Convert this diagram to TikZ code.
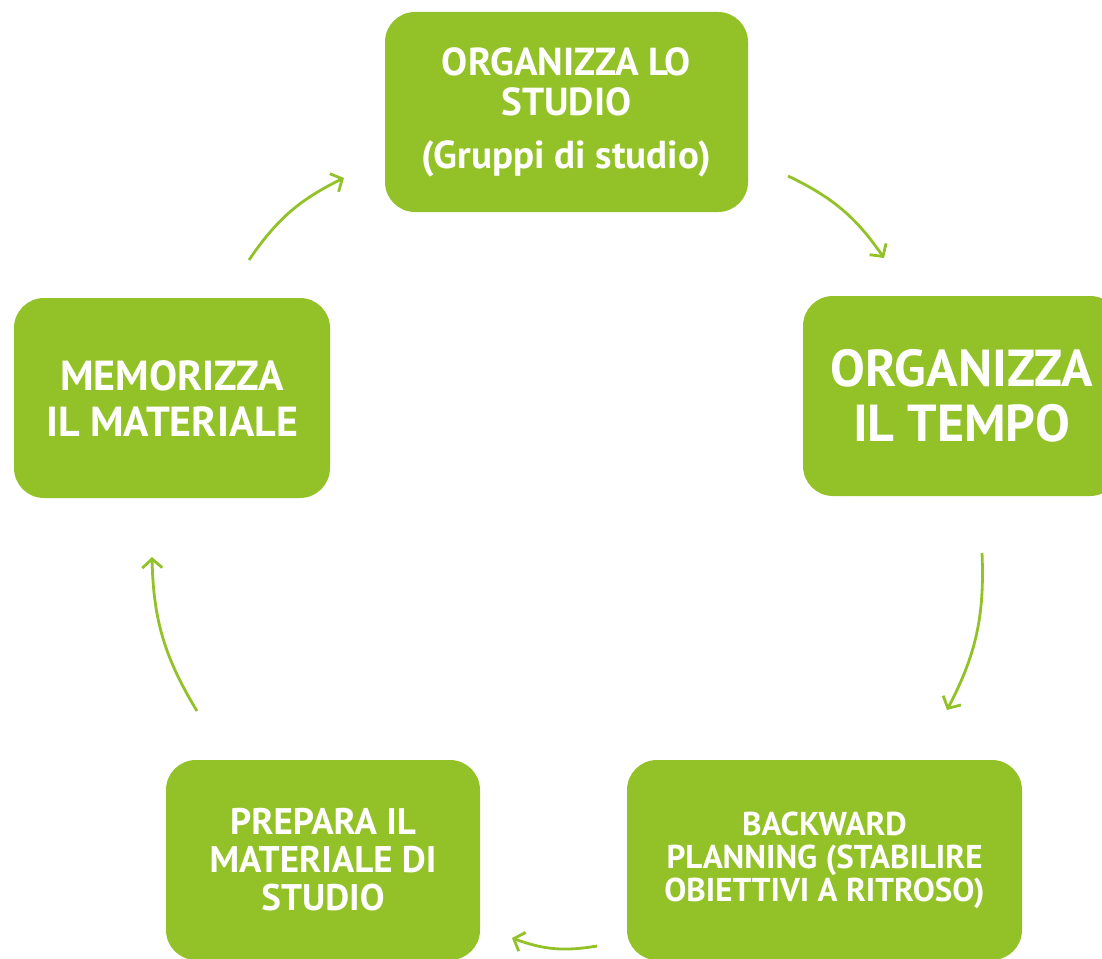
\documentclass[tikz,border=0pt]{standalone}
\usepackage{fontspec}
\setmainfont{PT Sans}
\usetikzlibrary{arrows.meta}
\definecolor{leaf}{HTML}{93C228}
\tikzset{
  box/.style={fill=leaf, rounded corners=30pt, inner sep=0pt, align=center,
    text=white},
  cyc/.style={draw=leaf, line width=2.8pt, -{Straight Barb[length=9pt,width=20pt,line width=2.8pt]}, bend left=15}
}
\begin{document}
\begin{tikzpicture}[x=1pt,y=1pt]
\useasboundingbox (0,0) rectangle (1102,-958);
\clip (0,0) rectangle (1102,-958);
\node[box, minimum width=363pt, minimum height=200pt,
  font=\fontsize{39}{40}\selectfont\bfseries] (org) at (566.5,-112)
  {ORGANIZZA LO\\ STUDIO\\[13pt] (Gruppi di studio)};
\node[box, minimum width=317pt, minimum height=200pt,
  font=\fontsize{52}{55}\selectfont\bfseries] (tempo) at (961.5,-396)
  {ORGANIZZA\\ IL TEMPO};
\node[box, minimum width=316pt, minimum height=200pt,
  font=\fontsize{42}{46}\selectfont\bfseries] (mem) at (172,-398)
  {MEMORIZZA\\ IL MATERIALE};
\node[box, minimum width=314pt, minimum height=200pt,
  font=\fontsize{37}{38}\selectfont\bfseries] (prep) at (323,-860)
  {PREPARA IL\\ MATERIALE DI\\ STUDIO};
\node[box, minimum width=395pt, minimum height=200pt,
  font=\fontsize{33}{33}\selectfont\bfseries] (back) at (824.5,-860)
  {BACKWARD\\ PLANNING (STABILIRE\\ OBIETTIVI A RITROSO)};
\coordinate (a1s) at (249,-260); \coordinate (a1e) at (344,-178);
\coordinate (a2s) at (788,-176); \coordinate (a2e) at (884,-258);
\coordinate (a3s) at (982,-553); \coordinate (a3e) at (947,-710);
\coordinate (a4s) at (597,-946); \coordinate (a4e) at (512,-938);
\coordinate (a5s) at (197,-711); \coordinate (a5e) at (152,-557);
\draw[cyc] (a1s) to (a1e);
\draw[cyc] (a2s) to (a2e);
\draw[cyc] (a3s) to (a3e);
\draw[cyc] (a4s) to (a4e);
\draw[cyc] (a5s) to (a5e);
\end{tikzpicture}
\end{document}
